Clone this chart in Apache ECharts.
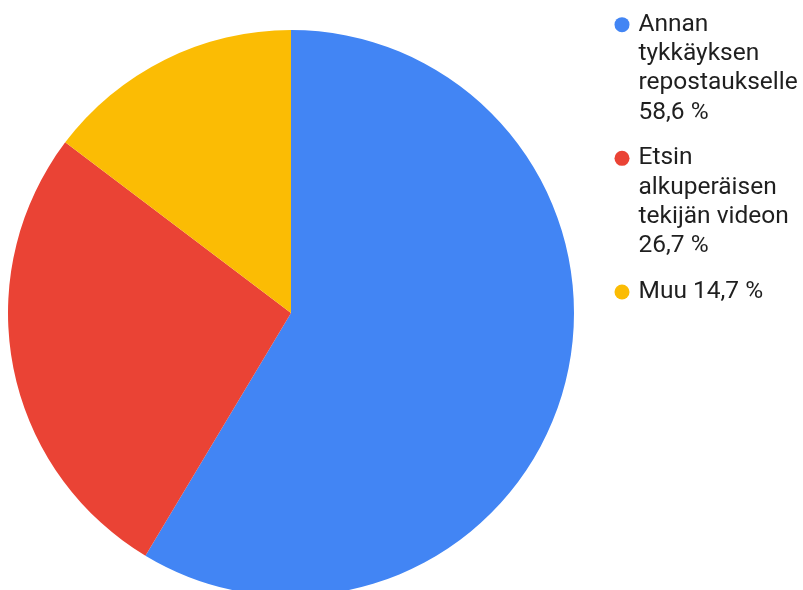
<!DOCTYPE html>
<html>
<head>
<meta charset="utf-8">
<script src="https://cdn.jsdelivr.net/npm/echarts@6/dist/echarts.min.js"></script>
<style>
  html, body { margin: 0; padding: 0; background: #fff; }
  #chart { width: 803px; height: 590px; }
</style>
</head>
<body>
<div id="chart"></div>
<script>
// data
var categories = ['Annan tykkäyksen repostaukselle', 'Etsin alkuperäisen tekijän videon', 'Muu'];
var legendLines = [
    ['Annan', 'tykkäyksen', 'repostaukselle'],
    ['Etsin', 'alkuperäisen', 'tekijän videon'],
    ['Muu']
];
var values = [58.6, 26.7, 14.7];
var colors = ['#4285f4', '#ea4335', '#fbbc04'];

var myChart = echarts.init(document.getElementById('chart'));

function pct(v) {
    return v.toFixed(1).replace('.', ',') + ' %';
}

// rich styles for legend: coloured dot + text
var rich = {
    t: { fontSize: 24.5, lineHeight: 29.3, color: '#1f1f1f', fontFamily: 'Roboto' },
    g: { width: 9, height: 15 },
    sp: { width: 24, height: 15 }
};
colors.forEach(function (c, i) {
    rich['d' + i] = { width: 15, height: 15, borderRadius: 7.5, backgroundColor: c };
});

var option = {
    animation: false,
    color: colors,
    legend: {
        orient: 'vertical',
        left: 609.5,
        top: 10,
        padding: 0,
        itemWidth: 0,
        itemHeight: 15,
        itemGap: 16.5,
        icon: 'none',
        selectedMode: false,
        data: categories,
        formatter: function (name) {
            var i = categories.indexOf(name);
            var lines = legendLines[i].slice();
            var last = pct(values[i]);
            if (lines.length === 1) {
                lines[0] = lines[0] + ' ' + last;
            } else {
                lines.push(last);
            }
            return lines.map(function (l, k) {
                return (k === 0 ? '{d' + i + '|}{g|}' : '{sp|}') + '{t|' + l + '}';
            }).join('\n');
        },
        textStyle: { fontSize: 24.5, lineHeight: 29.3, fontFamily: 'Roboto', rich: rich }
    },
    series: [{
        type: 'pie',
        center: [291, 313],
        radius: 283,
        startAngle: 90,
        clockwise: true,
        label: { show: false },
        labelLine: { show: false },
        emphasis: { disabled: true },
        itemStyle: { borderWidth: 0 },
        data: categories.map(function (c, i) {
            return { name: c, value: values[i] };
        })
    }]
};

myChart.setOption(option);
</script>
</body>
</html>
